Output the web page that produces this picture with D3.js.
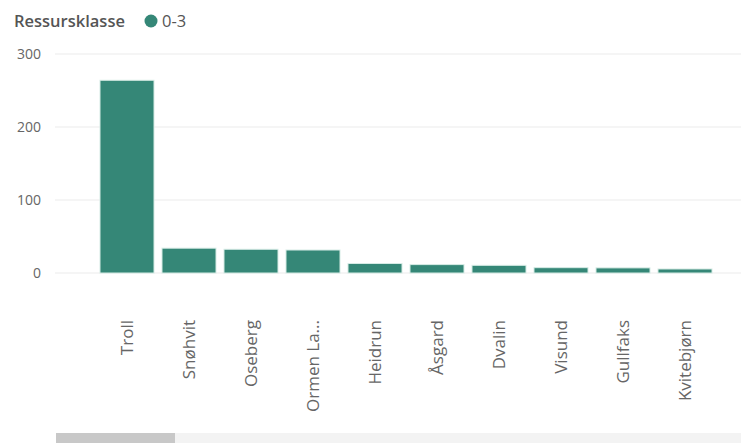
<!DOCTYPE html>
<html>
<head>
<meta charset="utf-8">
<script src="https://cdn.jsdelivr.net/npm/d3@7"></script>
<style>
  body { margin: 0; background: #fff; }
  svg { display: block; font-family: "Open Sans", "Noto Sans", sans-serif; }
</style>
</head>
<body>
<div id="chart"></div>
<script>
// data
const fields = ['Troll', 'Snøhvit', 'Oseberg', 'Ormen La...', 'Heidrun', 'Åsgard', 'Dvalin', 'Visund', 'Gullfaks', 'Kvitebjørn'];
const values = [264, 34, 32.5, 31.5, 13, 11.5, 10.5, 7.3, 7, 5.5];
const yTicks = [0, 100, 200, 300];
const legendTitle = 'Ressursklasse';
const legendItems = ['0-3'];

const width = 741, height = 443;
const color = '#358777';

const svg = d3.select('#chart').append('svg')
  .attr('width', width)
  .attr('height', height);

const x = d3.scaleBand()
  .domain(fields)
  .range([93.8, 718.2])
  .paddingInner(0.129)
  .paddingOuter(0.1);

const y = d3.scaleLinear()
  .domain([0, 300])
  .range([273, 54]);

// gridlines
svg.append('g')
  .selectAll('line')
  .data(yTicks)
  .join('line')
    .attr('x1', 55)
    .attr('x2', width)
    .attr('y1', d => y(d))
    .attr('y2', d => y(d))
    .attr('stroke', '#ebebeb')
    .attr('stroke-width', 1);

// y tick labels
svg.append('g')
  .selectAll('text')
  .data(yTicks)
  .join('text')
    .attr('x', 41)
    .attr('y', d => y(d))
    .attr('dy', '0.35em')
    .attr('text-anchor', 'end')
    .attr('fill', '#666')
    .style('font-size', '14px')
    .text(d => d);

// bars
svg.append('g')
  .selectAll('rect')
  .data(values)
  .join('rect')
    .attr('x', (d, i) => x(fields[i]))
    .attr('y', d => y(d))
    .attr('width', x.bandwidth())
    .attr('height', d => y(0) - y(d))
    .attr('fill', color)
    .attr('stroke', '#d6ebe5')
    .attr('stroke-width', 1);

// category labels, rotated
svg.append('g')
  .selectAll('text')
  .data(fields)
  .join('text')
    .attr('transform', d => `translate(${x(d) + x.bandwidth() / 2 + 6},320) rotate(-90)`)
    .attr('text-anchor', 'end')
    .attr('fill', '#666')
    .style('font-size', '17px')
    .text(d => d);

// legend
svg.append('text')
  .attr('x', 14)
  .attr('y', 27)
  .attr('fill', '#555')
  .style('font-size', '16.5px')
  .style('font-weight', '600')
  .text(legendTitle);

const lg = svg.append('g').selectAll('g')
  .data(legendItems)
  .join('g')
    .attr('transform', (d, i) => `translate(${151 + i * 60},21)`);
lg.append('circle')
  .attr('r', 6.5)
  .attr('fill', color);
lg.append('text')
  .attr('x', 11)
  .attr('dy', '0.35em')
  .attr('fill', '#555')
  .style('font-size', '16.5px')
  .text(d => d);

// scrollbar
svg.append('rect')
  .attr('x', 56).attr('y', 433)
  .attr('width', width - 56).attr('height', 10)
  .attr('fill', '#f3f3f3');
svg.append('rect')
  .attr('x', 56).attr('y', 433)
  .attr('width', 119).attr('height', 10)
  .attr('fill', '#c8c8c8');
</script>
</body>
</html>
